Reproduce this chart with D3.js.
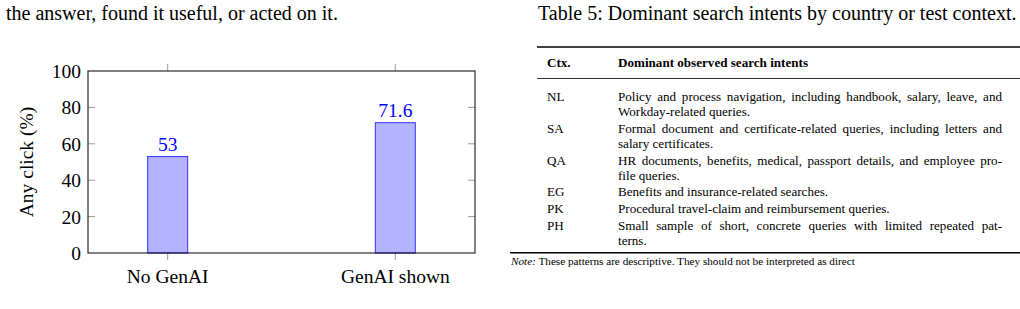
<!DOCTYPE html>
<html>
<head>
<meta charset="utf-8">
<script src="https://cdn.jsdelivr.net/npm/d3@7"></script>
<style>
  body { margin: 0; background: #fff; }
  svg text { font-family: "Liberation Serif", "Times New Roman", serif; }
</style>
</head>
<body>
<svg id="page" width="1020" height="309"></svg>
<script>
// chart data
let categories = ["No GenAI", "GenAI shown"];
let values = [53, 71.6];
let valueLabels = ["53", "71.6"];
let yTicks = [0, 20, 40, 60, 80, 100];
let yLabel = "Any click (%)";

// page text around the chart
let bodyLine = "the answer, found it useful, or acted on it.";
let tableTitle = "Table 5: Dominant search intents by country or test context.";
let tableHead = ["Ctx.", "Dominant observed search intents"];
let tableCtx = ["NL", "SA", "QA", "EG", "PK", "PH"];
let tableIntents = [
    ["Policy and process navigation, including handbook, salary, leave, and", "Workday-related queries."],
    ["Formal document and certificate-related queries, including letters and", "salary certificates."],
    ["HR documents, benefits, medical, passport details, and employee pro-", "file queries."],
    ["Benefits and insurance-related searches."],
    ["Procedural travel-claim and reimbursement queries."],
    ["Small sample of short, concrete queries with limited repeated pat-", "terns."]
];
let noteLabel = "Note:";
let noteText = " These patterns are descriptive. They should not be interpreted as direct";

let svg = d3.select("#page");

// ---- left column: text line + bar chart ----
svg.append("text")
    .attr("x", 6).attr("y", 19.5)
    .attr("font-size", 20)
    .text(bodyLine);

let plot = { left: 88, right: 475, top: 71, bottom: 253 };

let x = d3.scalePoint()
    .domain(categories)
    .range([plot.left, plot.right])
    .padding(0.35);

let y = d3.scaleLinear()
    .domain([0, 100])
    .range([plot.bottom, plot.top]);

let chart = svg.append("g");
let fsChart = 19.5;

// ticks (y inside on both sides, x outside top and bottom)
chart.append("g").selectAll("line")
    .data(yTicks.slice(1, -1))
    .join("line")
    .attr("x1", plot.left).attr("x2", plot.left + 7)
    .attr("y1", d => y(d)).attr("y2", d => y(d))
    .attr("stroke", "#999");
chart.append("g").selectAll("line")
    .data(yTicks.slice(1, -1))
    .join("line")
    .attr("x1", plot.right).attr("x2", plot.right - 7)
    .attr("y1", d => y(d)).attr("y2", d => y(d))
    .attr("stroke", "#999");
chart.append("g").selectAll("line")
    .data(categories)
    .join("line")
    .attr("x1", d => x(d)).attr("x2", d => x(d))
    .attr("y1", plot.top).attr("y2", plot.top - 7)
    .attr("stroke", "#999");
chart.append("g").selectAll("line")
    .data(categories)
    .join("line")
    .attr("x1", d => x(d)).attr("x2", d => x(d))
    .attr("y1", plot.bottom).attr("y2", plot.bottom + 7)
    .attr("stroke", "#999");

// bars
let barW = 40;
chart.append("g").selectAll("rect")
    .data(values)
    .join("rect")
    .attr("x", (d, i) => x(categories[i]) - barW / 2)
    .attr("y", d => y(d))
    .attr("width", barW)
    .attr("height", d => y(0) - y(d))
    .attr("fill", "#b3b3ff")
    .attr("stroke", "#3333ff")
    .attr("stroke-width", 1);

// value labels
chart.append("g").selectAll("text")
    .data(values)
    .join("text")
    .attr("x", (d, i) => x(categories[i]))
    .attr("y", d => y(d) - 6)
    .attr("text-anchor", "middle")
    .attr("font-size", fsChart)
    .attr("fill", "#0000ff")
    .text((d, i) => valueLabels[i]);

// frame
chart.append("rect")
    .attr("x", plot.left).attr("y", plot.top)
    .attr("width", plot.right - plot.left)
    .attr("height", plot.bottom - plot.top)
    .attr("fill", "none")
    .attr("stroke", "#000")
    .attr("stroke-width", 1);

// tick labels
chart.append("g").selectAll("text")
    .data(yTicks)
    .join("text")
    .attr("x", plot.left - 7)
    .attr("y", d => y(d))
    .attr("dy", "0.36em")
    .attr("text-anchor", "end")
    .attr("font-size", fsChart)
    .text(d => d);

chart.append("g").selectAll("text")
    .data(categories)
    .join("text")
    .attr("x", d => x(d))
    .attr("y", plot.bottom + 30)
    .attr("text-anchor", "middle")
    .attr("font-size", fsChart)
    .text(d => d);

chart.append("text")
    .attr("transform", `translate(33, ${(plot.top + plot.bottom) / 2}) rotate(-90)`)
    .attr("text-anchor", "middle")
    .attr("font-size", fsChart)
    .text(yLabel);

// ---- right column: table ----
svg.append("text")
    .attr("x", 538).attr("y", 19.5)
    .attr("font-size", 20)
    .text(tableTitle);

let tbl = svg.append("g");
let col1 = 547, col2 = 618, colW = 384;
let fs = 13.1;
let lineGap = 15.2, rowGap = 16.6;

tbl.append("line")
    .attr("x1", 537).attr("x2", 1020)
    .attr("y1", 47).attr("y2", 47)
    .attr("stroke", "#000").attr("stroke-width", 1.4);

tbl.selectAll("text.head")
    .data(tableHead)
    .join("text")
    .attr("x", (d, i) => i == 0 ? col1 : col2)
    .attr("y", 67)
    .attr("font-size", fs)
    .attr("font-weight", "bold")
    .text(d => d);

tbl.append("line")
    .attr("x1", 537).attr("x2", 1020)
    .attr("y1", 78.5).attr("y2", 78.5)
    .attr("stroke", "#000").attr("stroke-width", 0.8);

// spread the words of a full line across the column, like a justified paragraph
function justifyLine(g, line, x0, width, yy) {
    let words = line.split(" ");
    let nodes = words.map(w => g.append("text")
        .attr("y", yy).attr("font-size", fs).text(w));
    let widths = nodes.map(n => n.node().getComputedTextLength());
    let gap = (width - d3.sum(widths)) / (words.length - 1);
    let cx = x0;
    nodes.forEach((n, i) => {
        n.attr("x", cx);
        cx += widths[i] + gap;
    });
}

let yy = 101;
tableCtx.forEach((c, r) => {
    if (r > 0) yy += rowGap;
    tbl.append("text").attr("x", col1).attr("y", yy)
        .attr("font-size", fs).text(c);
    tableIntents[r].forEach((line, k) => {
        if (k > 0) yy += lineGap;
        if (k < tableIntents[r].length - 1) {
            justifyLine(tbl, line, col2, colW, yy);
        } else {
            tbl.append("text").attr("x", col2).attr("y", yy)
                .attr("font-size", fs).text(line);
        }
    });
});

tbl.append("line")
    .attr("x1", 510).attr("x2", 1020)
    .attr("y1", yy + 8).attr("y2", yy + 8)
    .attr("stroke", "#000").attr("stroke-width", 1.4);

let note = tbl.append("text")
    .attr("x", 511).attr("y", yy + 20)
    .attr("font-size", 11.2);
note.append("tspan").attr("font-style", "italic").text(noteLabel);
note.append("tspan").text(noteText);
</script>
</body>
</html>
